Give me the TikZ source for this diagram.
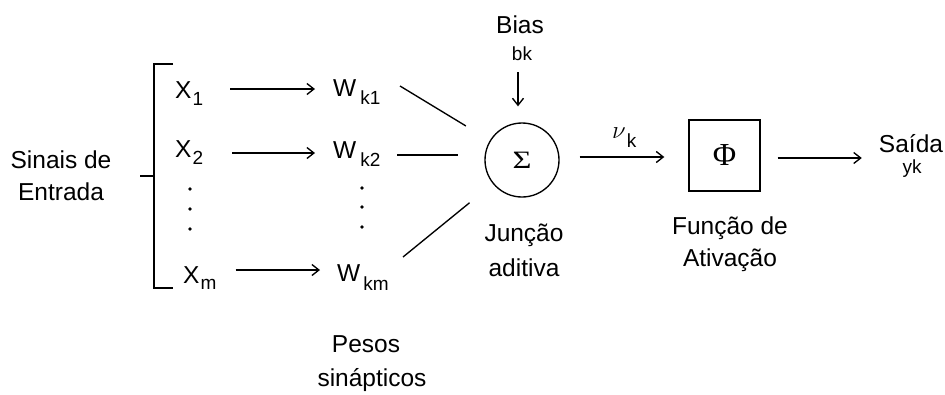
\documentclass[tikz,border=0pt]{standalone}
\usepackage{fontspec}
\setmainfont{Liberation Sans}
\newfontfamily\grk{Liberation Serif}
\usetikzlibrary{arrows.meta}
\newcommand{\lsub}[2][7.5pt]{\kern1pt\raisebox{-#1}{\fontsize{19}{19}\selectfont #2}}
\begin{document}
\begin{tikzpicture}[x=1pt,y=-1pt,
  txt/.style={inner sep=0pt, font=\fontsize{24.5}{29}\selectfont},
  small/.style={inner sep=0pt, font=\fontsize{19}{22}\selectfont},
  arr/.style={-{Straight Barb[length=7pt,width=11pt]}, line width=1.35pt},
  ln/.style={line width=1.35pt},
  dotm/.style={circle, fill, inner sep=0pt, minimum size=3.8pt}]
\useasboundingbox[fill=white] (0,0) rectangle (945,394);

% input label and bracket
\node[txt, anchor=base] (sin1) at (61,168) {Sinais de};
\node[txt, anchor=base] (sin2) at (61,200) {Entrada};
\coordinate (bt) at (173,64);
\coordinate (bb) at (173,288);
\coordinate (bm) at (140,176);
\draw[ln] (bt) -- (154,64) -- (154,288) -- (bb);
\draw[ln] (bm) -- (154,176);

% inputs
\node[txt, anchor=base west] (x1) at (175,98) {X\lsub{1}};
\node[txt, anchor=base west] (x2) at (175,157) {X\lsub{2}};
\node[txt, anchor=base west] (xm) at (183,283) {X\lsub[6pt]{m}};
\node[dotm] (dx1) at (190,189) {};
\node[dotm] (dx2) at (190,209) {};
\node[dotm] (dx3) at (190,229) {};

% weights
\node[txt, anchor=base west] (w1) at (333,96) {W\kern3pt\lsub[8pt]{k1}};
\node[txt, anchor=base west] (w2) at (333,158) {W\kern3pt\lsub[8pt]{k2}};
\node[txt, anchor=base west] (wm) at (337,281) {W\kern2pt\lsub[9pt]{km}};
\node[dotm] (dw1) at (362,188) {};
\node[dotm] (dw2) at (362,207) {};
\node[dotm] (dw3) at (362,227) {};
\node[txt, anchor=base] (pes1) at (366,352) {Pesos};
\node[txt, anchor=base] (pes2) at (372,386) {sinápticos};

\draw[arr, shorten <=27pt, shorten >=18pt] (x1.east |- 0,89) -- (w1.west |- 0,89);
\draw[arr, shorten <=29pt, shorten >=18pt] (x2.east |- 0,153) -- (w2.west |- 0,153);
\draw[arr, shorten <=19pt, shorten >=17pt] (xm.east |- 0,270) -- (wm.west |- 0,270);

% summing junction
\node[circle, draw, ln, minimum size=74pt, inner sep=0pt] (sig) at (522,160) {\grk\fontsize{25}{25}\selectfont\scalebox{1.3}[1]{Σ}};
\node[txt, anchor=base] (jun1) at (524,241) {Junção};
\node[txt, anchor=base] (jun2) at (524,276) {aditiva};
\coordinate (s1) at (400,86);
\coordinate (s2) at (397,155);
\coordinate (s3) at (403,257);
\draw[ln, shorten >=28pt] (s1) -- (sig);
\draw[ln, shorten >=26pt] (s2) -- (sig.west |- s2);
\draw[ln, shorten >=30pt] (s3) -- (sig);

% bias
\node[txt, anchor=base] (bias) at (520,33) {Bias};
\node[small, anchor=base] (bk) at (522,60) {bk};
\coordinate (bs) at (518,72);
\draw[arr, shorten >=16pt] (bs) -- (bs |- sig.north);

% activation
\node[draw, ln, minimum size=71pt, inner sep=0pt] (phi) at (724.5,155.5) {\grk\fontsize{32}{32}\selectfont Φ};
\node[txt, anchor=base] (fun1) at (730,234) {Função de};
\node[txt, anchor=base] (fun2) at (730,266) {Ativação};
\draw[arr, shorten <=20pt, shorten >=24pt] (sig.east |- 0,157) -- (phi.west |- 0,157);
\node[inner sep=0pt, anchor=base west] (nu) at (612,138) {\fontsize{26}{26}\selectfont$\nu$\lsub[9pt]{k}};

% output
\node[txt, anchor=base] (said) at (911,152) {Saída};
\node[small, anchor=base] (yk) at (912,173) {yk};
\draw[arr, shorten <=17pt, shorten >=17pt] (phi.east |- 0,158) -- (said.west |- 0,158);
\end{tikzpicture}
\end{document}
